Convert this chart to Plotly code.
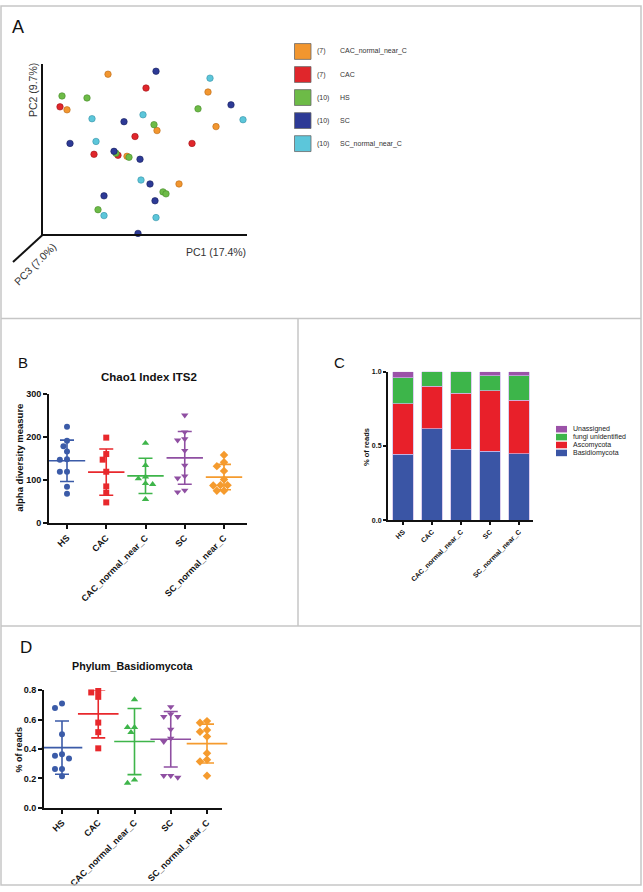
import numpy as np
import plotly.graph_objects as go

W, H = 643, 892
def px(x): return x / W
def py(y): return 1 - y / H

FONT = "Liberation Sans"

# ---------------- DATA ----------------
groups = ["HS", "CAC", "CAC_normal_near_C", "SC", "SC_normal_near_C"]

# Panel A: PCoA (projected PC1 / PC2 positions)
pcoa_names = ["CAC_normal_near_C", "CAC", "HS", "SC", "SC_normal_near_C"]
pcoa_counts = [7, 7, 10, 10, 10]
pcoa_cacn_x = [65, 24, 114, 84, 165, 173, 136]
pcoa_cacn_y = [162, 126, 105, 79, 144, 109, 51]
pcoa_cac_x = [103, 17, 92, 51, 75, 149, 156]
pcoa_cac_y = [148, 129, 99, 81, 80, 92, -2]
pcoa_hs_x = [97, 19, 44, 155, 111, 73, 86, 120, 123, 55]
pcoa_hs_y = [174, 140, 138, 127, 111, 82, 78, 43, 41, 25]
pcoa_sc_x = [113, 188, 81, 27, 71, 97, 107, 61, 112, 95]
pcoa_sc_y = [165, 131, 114, 92, 84, 76, 51, 39, 34, 1]
pcoa_scn_x = [167, 100, 49, 200, 53, -3, 98, 61, 113]
pcoa_scn_y = [158, 121, 117, 116, 94, 85, 55, 19, 17]

# Panel B: Chao1 index ITS2
chao_hs = [223, 191, 178, 166, 148, 147, 119, 119, 84, 68]
chao_cac = [198, 160, 147, 119, 85, 70, 48]
chao_cacn = [185, 134, 107, 103, 92, 90, 55]
chao_sc = [250, 211, 192, 195, 168, 134, 109, 104, 72, 76]
chao_scn = [158, 141, 132, 121, 101, 88, 88, 87, 75, 75]

# Panel C: stacked relative abundance
phyla = ["Basidiomycota", "Ascomycota", "fungi unidentified", "Unassigned"]
ab_basidio = [0.445, 0.617, 0.479, 0.463, 0.448]
ab_asco = [0.339, 0.287, 0.378, 0.410, 0.360]
ab_fungi = [0.176, 0.096, 0.143, 0.100, 0.165]
ab_unassigned = [0.040, 0.000, 0.000, 0.027, 0.027]

# Panel D: Phylum Basidiomycota
bas_hs = [0.71, 0.68, 0.50, 0.365, 0.355, 0.335, 0.265, 0.265, 0.215]
bas_cac = [0.795, 0.785, 0.755, 0.58, 0.515, 0.405]
bas_cacn = [0.737, 0.548, 0.514, 0.548, 0.169, 0.19]
bas_sc = [0.687, 0.62, 0.62, 0.638, 0.534, 0.473, 0.45, 0.219, 0.207, 0.219]
bas_scn = [0.579, 0.59, 0.518, 0.53, 0.485, 0.372, 0.327, 0.315, 0.219]

# ---------------- STYLE ----------------
pcoa_colors = ["#F2962F", "#E0262B", "#6DBB47", "#2D3A96", "#5CC6DA"]
pcoa_edges = ["#B86A18", "#A01418", "#468A2A", "#18205E", "#3892A6"]
grp_colors = ["#3B5BA8", "#E8282C", "#3EB54A", "#8F4FA2", "#F59B2E"]
grp_symbols = ["circle", "square", "triangle-up", "triangle-down", "diamond"]
phyla_colors = ["#3A55A5", "#E8202A", "#3DB54A", "#9B52A8"]

# panel pixel boxes (x0, x1, ytop, ybottom)
A_box = (43, 247, 60, 232)
B_box = (49, 247, 393, 524)
C_box = (388, 533, 371, 521)
D_box = (44, 222, 693, 812)

fig = go.Figure()

# ---------------- Panel A ----------------
pcoa_x = [pcoa_cacn_x, pcoa_cac_x, pcoa_hs_x, pcoa_sc_x, pcoa_scn_x]
pcoa_y = [pcoa_cacn_y, pcoa_cac_y, pcoa_hs_y, pcoa_sc_y, pcoa_scn_y]
for xs, ys, c, e in zip(pcoa_x, pcoa_y, pcoa_colors, pcoa_edges):
    fig.add_trace(go.Scatter(x=xs, y=ys, mode="markers", xaxis="x", yaxis="y",
                             marker=dict(size=6.5, color=c, line=dict(color=e, width=0.6)),
                             showlegend=False, cliponaxis=False, hoverinfo="skip"))


def swarm(vals, ppu_y, ppu_x, diam):
    vals = np.asarray(vals, dtype=float)
    order = np.argsort(-vals, kind="stable")
    step = diam * 0.55
    cands = [0.0]
    for k in range(1, 10):
        cands += [-k * step, k * step]
    placed, offs = [], np.zeros(len(vals))
    for i in order:
        yv = vals[i] * ppu_y
        for c in cands:
            if all((c - a) ** 2 + (yv - b) ** 2 >= 0.9 * diam ** 2 for a, b in placed):
                break
        placed.append((c, yv))
        offs[i] = c / ppu_x
    return offs


def dot_panel(data, box, yrange, xa, ya, diam, mean_w, cap_w):
    x0, x1, yt, yb = box
    ppu_y = (yb - yt) / (yrange[1] - yrange[0])
    ppu_x = (x1 - x0) / 5.045
    for i, (vals, col, sym) in enumerate(zip(data, grp_colors, grp_symbols)):
        m = float(np.mean(vals))
        sd = float(np.std(vals, ddof=1))
        fig.add_trace(go.Scatter(x=[i], y=[m], mode="markers", xaxis=xa, yaxis=ya,
                                 marker=dict(symbol="line-ew", size=mean_w,
                                             line=dict(color=col, width=1.6)),
                                 error_y=dict(type="data", array=[sd], visible=True,
                                              width=cap_w, thickness=1.6, color=col),
                                 showlegend=False, hoverinfo="skip", cliponaxis=False))
        offs = swarm(vals, ppu_y, ppu_x, diam)
        fig.add_trace(go.Scatter(x=i + offs, y=vals, mode="markers", xaxis=xa, yaxis=ya,
                                 marker=dict(symbol=sym, size=6 if sym in ("circle", "square") else 6.5,
                                             color=col, line=dict(width=0)),
                                 showlegend=False, hoverinfo="skip", cliponaxis=False))


# ---------------- Panel B ----------------
dot_panel([chao_hs, chao_cac, chao_cacn, chao_sc, chao_scn], B_box, (0, 300),
          "x2", "y2", 6.5, 26, 7)

# ---------------- Panel C ----------------
ab = [ab_basidio, ab_asco, ab_fungi, ab_unassigned]
for name, vals, col in zip(phyla, ab, phyla_colors):
    fig.add_trace(go.Bar(x=list(range(5)), y=vals, name=name, xaxis="x3", yaxis="y3",
                         width=0.72, marker=dict(color=col, line=dict(color="#cdbbe8", width=0.7)),
                         showlegend=False, hoverinfo="skip"))

# ---------------- Panel D ----------------
dot_panel([bas_hs, bas_cac, bas_cacn, bas_sc, bas_scn], D_box, (0, 0.8),
          "x4", "y4", 6.2, 29, 7)


# ---------------- Axes ----------------
def dom(box):
    x0, x1, yt, yb = box
    return [px(x0), px(x1)], [py(yb), py(yt)]


def cat_range(box, first, last):
    x0, x1, _, _ = box
    sp = (last - first) / 4.0
    return [-(first - x0) / sp, 4 + (x1 - last) / sp]


base = dict(showgrid=False, zeroline=False, showline=True, linecolor="#111",
            linewidth=2, ticks="outside", tickwidth=2, ticklen=4, tickcolor="#111")

axd, ayd = dom(A_box)
lay = dict(
    xaxis=dict(domain=axd, range=[0, 204], anchor="y", showgrid=False, zeroline=False,
               showline=True, linecolor="#111", linewidth=2, showticklabels=False, ticks=""),
    yaxis=dict(domain=ayd, range=[0, 172], anchor="x", showgrid=False, zeroline=False,
               showline=True, linecolor="#111", linewidth=2, showticklabels=False, ticks=""),
)

bxd, byd = dom(B_box)
lay["xaxis2"] = dict(base, domain=bxd, range=cat_range(B_box, 67, 224), anchor="y2",
                     tickvals=list(range(5)), ticktext=groups, tickangle=-45,
                     tickfont=dict(family=FONT, size=9, color="#111", weight="bold"))
lay["yaxis2"] = dict(base, domain=byd, range=[0, 300], anchor="x2",
                     tickvals=[0, 100, 200, 300],
                     tickfont=dict(family=FONT, size=9, color="#111", weight="bold"))

cxd, cyd = dom(C_box)
lay["xaxis3"] = dict(base, domain=cxd, range=cat_range(C_box, 403, 519), anchor="y3",
                     tickvals=list(range(5)), ticktext=groups, tickangle=-45, ticklen=3,
                     tickfont=dict(family=FONT, size=7, color="#111", weight="bold"))
lay["yaxis3"] = dict(base, domain=cyd, range=[0, 1], anchor="x3", ticklen=3,
                     tickvals=[0, 0.5, 1], ticktext=["0.0", "0.5", "1.0"],
                     tickfont=dict(family=FONT, size=7, color="#111", weight="bold"))

dxd, dyd = dom(D_box)
lay["xaxis4"] = dict(base, domain=dxd, range=cat_range(D_box, 62, 207), anchor="y4",
                     tickvals=list(range(5)), ticktext=groups, tickangle=-45,
                     tickfont=dict(family=FONT, size=9, color="#111", weight="bold"))
lay["yaxis4"] = dict(base, domain=dyd, range=[0, 0.8], anchor="x4",
                     tickvals=[0, 0.2, 0.4, 0.6, 0.8], tickformat=".1f",
                     tickfont=dict(family=FONT, size=9, color="#111", weight="bold"))

# ---------------- Annotations ----------------
ann = []
def text(x, y, s, size, bold=False, angle=0, color="#111", xanchor="center", yanchor="middle", family=FONT):
    ann.append(dict(x=px(x), y=py(y), xref="paper", yref="paper", text=s, showarrow=False,
                    textangle=angle, xanchor=xanchor, yanchor=yanchor,
                    font=dict(family=family, size=size, color=color,
                              weight="bold" if bold else "normal")))

text(18, 22, "A", 18)
text(23, 362, "B", 15)
text(339, 362, "C", 15)
text(26, 650, "D", 17)

text(33, 86, "PC2 (9.7%)", 10.5, angle=-90, color="#333")
text(216, 250, "PC1 (17.4%)", 10.5, color="#333")
text(35, 262, "PC3 (7.0%)", 10.5, angle=-45, color="#333")

text(148.5, 376, "Chao1 Index ITS2", 11.5, bold=True)
text(20, 458, "alpha diversity measure", 9.5, bold=True, angle=-90)
text(367, 447, "% of reads", 7.5, bold=True, angle=-90)
text(133, 668, "Phylum_Basidiomycota", 10.7, bold=True)
text(19, 753, "% of reads", 9, bold=True, angle=-90)

shapes = []
# Panel A third axis (PC3 direction)
shapes.append(dict(type="line", xref="paper", yref="paper", x0=px(43), y0=py(232),
                   x1=px(13), y1=py(260), line=dict(color="#111", width=2)))

# Panel A legend
for k, (nm, cnt, c) in enumerate(zip(pcoa_names, pcoa_counts, pcoa_colors)):
    yc = 47 + k * 23.3
    shapes.append(dict(type="rect", xref="paper", yref="paper", x0=px(294.5), x1=px(311),
                       y0=py(yc + 8), y1=py(yc - 8), fillcolor=c,
                       line=dict(color="#6a6a6a", width=0.8)))
    text(315, yc, "(%d)" % cnt, 7, color="#333", xanchor="left")
    text(338, yc, nm, 7, color="#333", xanchor="left")

# Panel C legend (top to bottom: Unassigned ... Basidiomycota)
for k, (nm, c) in enumerate(zip(phyla[::-1], phyla_colors[::-1])):
    yc = 429 + k * 8
    shapes.append(dict(type="rect", xref="paper", yref="paper", x0=px(556), x1=px(567),
                       y0=py(yc + 3.3), y1=py(yc - 3.3), fillcolor=c, line=dict(width=0)))
    text(571, yc, nm, 7, color="#222", xanchor="left")

# Panel frames
frame = dict(color="#c6c6c6", width=1.5)
shapes.append(dict(type="rect", xref="paper", yref="paper", x0=px(1), x1=px(641),
                   y0=py(890), y1=py(1), line=frame))
shapes.append(dict(type="line", xref="paper", yref="paper", x0=px(1), x1=px(641),
                   y0=py(317), y1=py(317), line=frame))
shapes.append(dict(type="line", xref="paper", yref="paper", x0=px(1), x1=px(641),
                   y0=py(628), y1=py(628), line=frame))
shapes.append(dict(type="line", xref="paper", yref="paper", x0=px(298), x1=px(298),
                   y0=py(317), y1=py(628), line=frame))

fig.update_layout(**lay)
fig.update_layout(width=W, height=H, margin=dict(l=0, r=0, t=0, b=0),
                  paper_bgcolor="white", plot_bgcolor="rgba(0,0,0,0)",
                  barmode="stack", bargap=0.28, annotations=ann, shapes=shapes,
                  font=dict(family=FONT, color="#111"), showlegend=False)

fig.write_html("out.html", config={"displayModeBar": False, "staticPlot": True})

# remove the browser's default page margin so the figure sits at the window origin
with open("out.html", "r", encoding="utf-8") as f:
    html = f.read()
html = html.replace("<body>", '<body style="margin:0;padding:0;overflow:hidden;">', 1)
with open("out.html", "w", encoding="utf-8") as f:
    f.write(html)
